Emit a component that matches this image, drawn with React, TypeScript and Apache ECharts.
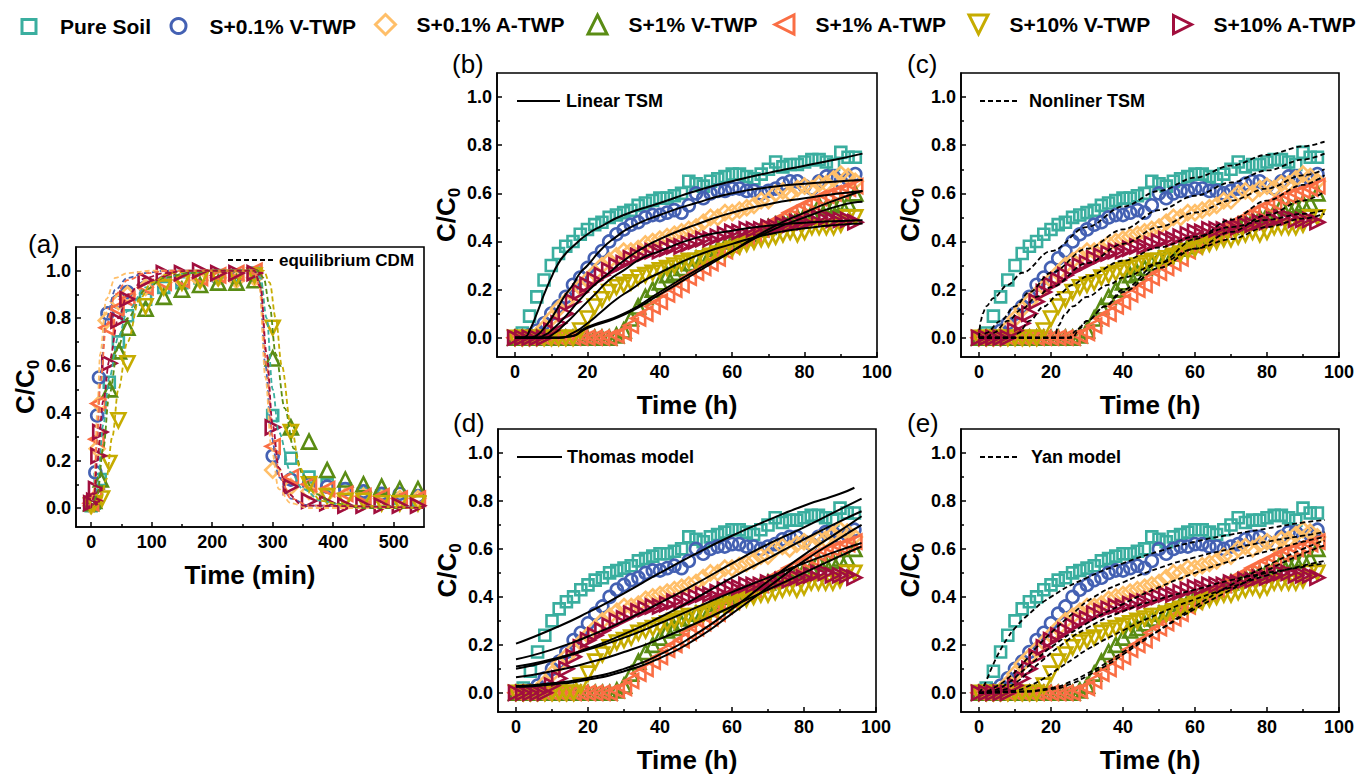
import React, { useEffect, useRef } from 'react';
import * as echarts from 'echarts';

const FONT = '"Liberation Sans", Arial, Helvetica, sans-serif';

// ---------- series definitions ----------
const SERIES_NAMES = ['Pure Soil', 'S+0.1% V-TWP', 'S+0.1% A-TWP', 'S+1% V-TWP', 'S+1% A-TWP', 'S+10% V-TWP', 'S+10% A-TWP'];
const COLORS = ['#3AAE9F', '#4461B3', '#FFBF69', '#5A8C14', '#FA6E44', '#C6AC00', '#A10E3D'];
const SYMBOLS = ['rect', 'circle', 'diamond', 'triangle', 'triangle', 'triangle', 'triangle'];
const ROTATIONS = [0, 0, 0, 0, 90, 180, -90];
const SIZES = [11, 12, 15, 14, 14, 14, 14];
const LEGEND_ICONS = ['rect', 'circle', 'diamond', 'triangle', 'path://M0,5L10,0L10,10Z', 'path://M0,0L10,0L5,10Z', 'path://M0,0L10,5L0,10Z'];

// ---------- panel (a): time in minutes ----------
const A_PURE = [[0, 0.01], [5, 0.02], [15, 0.12], [30, 0.53], [45, 0.70], [60, 0.81], [90, 0.88], [120, 0.93], [150, 0.95], [180, 0.97], [210, 0.98], [240, 0.98], [270, 0.99], [300, 0.39], [330, 0.21], [360, 0.13], [390, 0.10], [420, 0.08], [450, 0.06], [480, 0.05], [510, 0.04], [540, 0.03]];
const A_V01 = [[0, 0.01], [5, 0.03], [7, 0.15], [10, 0.39], [13, 0.55], [27, 0.82], [44, 0.87], [60, 0.91], [90, 0.93], [120, 0.95], [150, 0.96], [180, 0.97], [210, 0.97], [240, 0.97], [270, 0.98], [300, 0.22], [330, 0.12], [360, 0.10], [390, 0.09], [420, 0.08], [450, 0.07], [480, 0.06], [510, 0.06], [540, 0.05]];
const A_A01 = [[0, 0.01], [5, 0.03], [10, 0.25], [14, 0.44], [25, 0.79], [45, 0.87], [60, 0.90], [90, 0.93], [120, 0.95], [150, 0.96], [180, 0.96], [210, 0.97], [240, 0.96], [270, 0.97], [300, 0.16], [330, 0.09], [360, 0.07], [390, 0.06], [420, 0.05], [450, 0.05], [480, 0.04], [510, 0.04], [540, 0.04]];
const A_V1 = [[0, 0.02], [5, 0.03], [16, 0.12], [31, 0.50], [46, 0.66], [60, 0.76], [90, 0.84], [120, 0.89], [150, 0.92], [180, 0.94], [210, 0.95], [240, 0.95], [270, 0.96], [300, 0.63], [330, 0.34], [360, 0.28], [390, 0.16], [420, 0.12], [450, 0.10], [480, 0.09], [510, 0.08], [540, 0.08]];
const A_A1 = [[0, 0.02], [5, 0.05], [9, 0.29], [12, 0.44], [26, 0.76], [42, 0.84], [60, 0.88], [90, 0.93], [120, 0.95], [150, 0.96], [180, 0.97], [210, 0.98], [240, 0.99], [270, 1.0], [300, 0.26], [330, 0.13], [360, 0.10], [390, 0.08], [420, 0.06], [450, 0.05], [480, 0.05], [510, 0.04], [540, 0.04]];
const A_V10 = [[0, 0.01], [5, 0.02], [18, 0.04], [30, 0.19], [45, 0.37], [60, 0.61], [90, 0.85], [120, 0.93], [150, 0.95], [180, 0.96], [210, 0.97], [240, 0.97], [270, 0.98], [300, 0.76], [330, 0.32], [360, 0.10], [390, 0.05], [420, 0.03], [450, 0.03], [480, 0.02], [510, 0.02], [540, 0.02]];
const A_A10 = [[0, 0.02], [5, 0.03], [8, 0.08], [12, 0.22], [15, 0.32], [30, 0.61], [45, 0.79], [60, 0.88], [90, 0.96], [120, 0.99], [150, 0.99], [180, 1.0], [210, 0.99], [240, 0.99], [270, 0.99], [300, 0.34], [330, 0.09], [360, 0.03], [390, 0.02], [420, 0.01], [450, 0.01], [480, 0.01], [510, 0.01], [540, 0.01]];
const PANEL_A_DATA = [A_PURE, A_V01, A_A01, A_V1, A_A1, A_V10, A_A10];

// equilibrium CDM fitted curves (panel a)
const CDM_FITS = [
  [[0, 0], [10, 0.08], [20, 0.35], [30, 0.55], [45, 0.72], [60, 0.83], [90, 0.93], [120, 0.97], [160, 0.99], [200, 1.0], [270, 1.0], [280, 0.97], [290, 0.8], [300, 0.5], [310, 0.32], [330, 0.15], [350, 0.08], [380, 0.03], [420, 0.01], [550, 0]],
  [[0, 0], [5, 0.05], [10, 0.3], [15, 0.55], [25, 0.8], [40, 0.92], [60, 0.97], [90, 0.99], [120, 1], [270, 1], [278, 0.95], [288, 0.6], [298, 0.3], [310, 0.13], [330, 0.04], [360, 0.01], [550, 0]],
  [[0, 0], [5, 0.08], [10, 0.4], [15, 0.65], [25, 0.88], [40, 0.97], [60, 0.99], [100, 1], [270, 1], [278, 0.93], [288, 0.55], [298, 0.25], [310, 0.08], [330, 0.02], [360, 0], [550, 0]],
  [[0, 0], [10, 0.05], [20, 0.25], [30, 0.48], [45, 0.68], [60, 0.8], [90, 0.92], [120, 0.97], [160, 0.99], [200, 1], [275, 1], [285, 0.97], [295, 0.85], [305, 0.65], [320, 0.42], [335, 0.25], [350, 0.14], [370, 0.06], [400, 0.02], [450, 0], [550, 0]],
  [[0, 0], [5, 0.06], [10, 0.3], [15, 0.52], [25, 0.77], [40, 0.9], [60, 0.96], [90, 0.99], [130, 1], [270, 1], [280, 0.92], [290, 0.6], [300, 0.3], [312, 0.13], [330, 0.04], [360, 0.01], [550, 0]],
  [[0, 0], [15, 0.02], [25, 0.12], [35, 0.3], [45, 0.5], [60, 0.7], [80, 0.88], [100, 0.95], [130, 0.99], [170, 1], [285, 1], [295, 0.95], [305, 0.8], [315, 0.6], [330, 0.35], [345, 0.17], [360, 0.08], [380, 0.03], [420, 0.01], [550, 0]],
  [[0, 0], [5, 0.05], [10, 0.2], [20, 0.45], [30, 0.62], [45, 0.8], [60, 0.9], [90, 0.97], [120, 0.99], [160, 1], [270, 1], [280, 0.93], [290, 0.65], [300, 0.35], [310, 0.17], [325, 0.06], [350, 0.01], [550, 0]],
];

// ---------- panels (b)-(e): time in hours ----------
const TIME_H = [0, 2, 4, 6, 8, 10, 12, 14, 16, 18, 20, 22, 24, 26, 28, 30, 32, 34, 36, 38, 40, 42, 44, 46, 48, 50, 52, 54, 56, 58, 60, 62, 64, 66, 68, 70, 72, 74, 76, 78, 80, 82, 84, 86, 88, 90, 92, 94];
const PURE_SOIL = [0, 0.02, 0.09, 0.17, 0.24, 0.30, 0.35, 0.38, 0.40, 0.43, 0.45, 0.47, 0.48, 0.50, 0.51, 0.52, 0.53, 0.55, 0.56, 0.57, 0.58, 0.58, 0.59, 0.60, 0.65, 0.64, 0.63, 0.65, 0.66, 0.67, 0.68, 0.68, 0.67, 0.66, 0.68, 0.70, 0.73, 0.71, 0.72, 0.72, 0.73, 0.74, 0.74, 0.73, 0.72, 0.77, 0.75, 0.75];
const V_TWP_01 = [0, 0, 0.01, 0.03, 0.06, 0.10, 0.13, 0.17, 0.22, 0.25, 0.29, 0.33, 0.36, 0.40, 0.43, 0.45, 0.47, 0.48, 0.50, 0.51, 0.51, 0.52, 0.53, 0.52, 0.55, 0.60, 0.58, 0.60, 0.61, 0.61, 0.62, 0.62, 0.61, 0.61, 0.60, 0.61, 0.62, 0.64, 0.65, 0.65, 0.63, 0.62, 0.65, 0.67, 0.67, 0.65, 0.66, 0.68];
const A_TWP_01 = [0, 0, 0, 0.01, 0.04, 0.08, 0.12, 0.15, 0.18, 0.21, 0.24, 0.27, 0.30, 0.32, 0.34, 0.36, 0.36, 0.37, 0.39, 0.40, 0.41, 0.42, 0.43, 0.44, 0.45, 0.46, 0.48, 0.50, 0.50, 0.52, 0.52, 0.53, 0.54, 0.55, 0.57, 0.57, 0.60, 0.61, 0.60, 0.62, 0.63, 0.62, 0.64, 0.64, 0.66, 0.68, 0.67, 0.65];
const V_TWP_1 = [0, 0, 0, 0, 0, 0, 0, 0, 0, 0, 0, 0, 0, 0, 0.01, 0.03, 0.08, 0.13, 0.17, 0.20, 0.23, 0.26, 0.27, 0.29, 0.31, 0.33, 0.34, 0.35, 0.37, 0.38, 0.40, 0.41, 0.42, 0.43, 0.45, 0.46, 0.47, 0.48, 0.49, 0.50, 0.51, 0.52, 0.55, 0.54, 0.55, 0.56, 0.56, 0.60];
const A_TWP_1 = [0, 0, 0, 0, 0, 0, 0, 0, 0, 0, 0, 0, 0, 0, 0.01, 0.02, 0.05, 0.08, 0.10, 0.13, 0.15, 0.18, 0.20, 0.22, 0.25, 0.27, 0.29, 0.31, 0.33, 0.36, 0.38, 0.40, 0.41, 0.43, 0.45, 0.47, 0.48, 0.50, 0.52, 0.53, 0.55, 0.56, 0.58, 0.59, 0.60, 0.61, 0.62, 0.63];
const V_TWP_10 = [0, 0, 0, 0, 0, 0, 0, 0, 0, 0.03, 0.08, 0.13, 0.16, 0.19, 0.21, 0.22, 0.23, 0.25, 0.26, 0.27, 0.28, 0.29, 0.30, 0.31, 0.32, 0.32, 0.33, 0.34, 0.35, 0.36, 0.37, 0.38, 0.39, 0.40, 0.41, 0.41, 0.42, 0.43, 0.44, 0.43, 0.44, 0.46, 0.46, 0.46, 0.46, 0.47, 0.50, 0.50];
const A_TWP_10 = [0, 0, 0, 0, 0, 0.03, 0.06, 0.10, 0.15, 0.19, 0.22, 0.24, 0.26, 0.28, 0.30, 0.31, 0.33, 0.34, 0.35, 0.36, 0.36, 0.37, 0.38, 0.38, 0.39, 0.40, 0.41, 0.41, 0.42, 0.43, 0.44, 0.44, 0.45, 0.45, 0.45, 0.46, 0.46, 0.47, 0.47, 0.48, 0.48, 0.49, 0.50, 0.50, 0.49, 0.49, 0.49, 0.48];
const HOUR_DATA = [PURE_SOIL, V_TWP_01, A_TWP_01, V_TWP_1, A_TWP_1, V_TWP_10, A_TWP_10];

// Linear TSM fits (panel b)
const LINEAR_TSM_FITS = [
  [[0, 0], [2, 0], [3, 0.005], [4, 0.03], [6, 0.10], [8, 0.18], [10, 0.25], [12, 0.31], [14, 0.35], [16, 0.38], [20, 0.43], [24, 0.465], [30, 0.51], [40, 0.56], [50, 0.61], [60, 0.65], [70, 0.685], [80, 0.715], [90, 0.745], [96, 0.765]],
  [[0, 0], [4, 0], [6, 0.01], [8, 0.04], [10, 0.08], [12, 0.13], [14, 0.18], [16, 0.22], [18, 0.27], [20, 0.30], [24, 0.37], [28, 0.42], [32, 0.46], [40, 0.51], [50, 0.56], [60, 0.60], [70, 0.625], [80, 0.64], [90, 0.65], [96, 0.655]],
  [[0, 0], [6, 0], [8, 0.01], [10, 0.03], [14, 0.09], [18, 0.16], [22, 0.22], [26, 0.27], [30, 0.32], [35, 0.37], [40, 0.41], [50, 0.47], [60, 0.52], [70, 0.555], [80, 0.58], [90, 0.60], [96, 0.61]],
  [[0, 0], [10, 0], [15, 0.005], [20, 0.045], [30, 0.10], [40, 0.19], [50, 0.28], [60, 0.36], [70, 0.44], [80, 0.50], [90, 0.55], [96, 0.565]],
  [[0, 0], [10, 0], [15, 0.005], [20, 0.04], [30, 0.095], [40, 0.18], [50, 0.27], [60, 0.36], [70, 0.45], [80, 0.52], [90, 0.58], [96, 0.61]],
  [[0, 0], [12, 0], [16, 0.02], [20, 0.06], [24, 0.11], [28, 0.16], [32, 0.20], [36, 0.24], [40, 0.27], [50, 0.34], [60, 0.39], [70, 0.43], [80, 0.455], [90, 0.47], [96, 0.475]],
  [[0, 0], [8, 0], [10, 0.01], [14, 0.06], [18, 0.12], [22, 0.18], [26, 0.24], [30, 0.28], [35, 0.33], [40, 0.36], [50, 0.415], [60, 0.445], [70, 0.465], [80, 0.478], [90, 0.485], [96, 0.488]],
];

// Nonlinear TSM fits (panel c)
const NONLINEAR_TSM_FITS = [
  [[0, 0], [0.5, 0.07], [1, 0.10], [2, 0.13], [4, 0.165], [8, 0.22], [12, 0.27], [20, 0.36], [30, 0.46], [40, 0.545], [50, 0.61], [60, 0.665], [70, 0.715], [80, 0.76], [90, 0.795], [96, 0.815]],
  [[0, 0], [1, 0], [2, 0.02], [6, 0.07], [10, 0.13], [14, 0.19], [20, 0.27], [30, 0.37], [40, 0.45], [50, 0.53], [60, 0.59], [70, 0.645], [80, 0.695], [90, 0.74], [96, 0.765]],
  [[0, 0], [2, 0], [4, 0.02], [8, 0.07], [12, 0.12], [16, 0.17], [20, 0.21], [30, 0.31], [40, 0.39], [50, 0.46], [60, 0.52], [70, 0.57], [80, 0.62], [90, 0.675], [96, 0.70]],
  [[0, 0], [25, 0], [27, 0.03], [30, 0.07], [35, 0.13], [40, 0.19], [50, 0.29], [60, 0.37], [70, 0.44], [80, 0.51], [90, 0.57], [96, 0.606]],
  [[0, 0], [26, 0], [28, 0.04], [30, 0.07], [35, 0.13], [40, 0.20], [50, 0.31], [60, 0.41], [70, 0.49], [80, 0.57], [90, 0.635], [96, 0.675]],
  [[0, 0], [21, 0], [22, 0.05], [24, 0.10], [26, 0.13], [30, 0.17], [36, 0.22], [40, 0.25], [50, 0.31], [60, 0.37], [70, 0.41], [80, 0.46], [90, 0.495], [96, 0.515]],
  [[0, 0], [10, 0], [11, 0.02], [14, 0.07], [18, 0.13], [22, 0.18], [26, 0.22], [30, 0.255], [40, 0.32], [50, 0.375], [60, 0.42], [70, 0.46], [80, 0.49], [90, 0.515], [96, 0.53]],
];

// Thomas model fits (panel d)
const THOMAS_FITS = [
  [[0, 0.205], [10, 0.265], [20, 0.335], [30, 0.415], [40, 0.50], [50, 0.58], [60, 0.655], [70, 0.72], [80, 0.78], [90, 0.83], [94, 0.855]],
  [[0, 0.14], [10, 0.18], [20, 0.235], [30, 0.30], [40, 0.375], [50, 0.455], [60, 0.54], [70, 0.62], [80, 0.69], [90, 0.765], [96, 0.81]],
  [[0, 0.11], [10, 0.14], [20, 0.185], [30, 0.245], [40, 0.315], [50, 0.395], [60, 0.48], [70, 0.56], [80, 0.64], [90, 0.715], [96, 0.757]],
  [[0, 0.025], [10, 0.035], [20, 0.055], [30, 0.09], [40, 0.145], [50, 0.225], [60, 0.33], [70, 0.44], [80, 0.55], [90, 0.645], [96, 0.70]],
  [[0, 0.028], [10, 0.04], [20, 0.062], [30, 0.10], [40, 0.16], [50, 0.245], [60, 0.35], [70, 0.465], [80, 0.575], [90, 0.675], [96, 0.736]],
  [[0, 0.065], [10, 0.09], [20, 0.125], [30, 0.17], [40, 0.225], [50, 0.29], [60, 0.36], [70, 0.43], [80, 0.50], [90, 0.57], [96, 0.61]],
  [[0, 0.10], [10, 0.135], [20, 0.18], [30, 0.23], [40, 0.29], [50, 0.355], [60, 0.42], [70, 0.48], [80, 0.54], [90, 0.595], [96, 0.625]],
];

// Yan model fits (panel e)
const YAN_FITS = [
  [[0, 0], [1, 0.02], [2, 0.05], [4, 0.12], [6, 0.18], [8, 0.23], [10, 0.27], [14, 0.33], [20, 0.40], [30, 0.48], [40, 0.54], [50, 0.59], [60, 0.63], [70, 0.66], [80, 0.685], [90, 0.71], [96, 0.72]],
  [[0, 0], [2, 0.005], [4, 0.02], [8, 0.06], [12, 0.12], [16, 0.19], [20, 0.25], [26, 0.33], [32, 0.40], [40, 0.46], [50, 0.52], [60, 0.565], [70, 0.60], [80, 0.63], [90, 0.655], [96, 0.67]],
  [[0, 0], [4, 0.01], [8, 0.04], [12, 0.09], [16, 0.14], [20, 0.19], [30, 0.29], [40, 0.37], [50, 0.44], [60, 0.50], [70, 0.55], [80, 0.59], [90, 0.63], [96, 0.65]],
  [[0, 0], [10, 0.005], [20, 0.02], [26, 0.05], [30, 0.08], [36, 0.13], [40, 0.17], [50, 0.26], [60, 0.35], [70, 0.43], [80, 0.51], [90, 0.58], [96, 0.615]],
  [[0, 0], [10, 0.003], [20, 0.015], [26, 0.04], [30, 0.07], [36, 0.12], [40, 0.16], [50, 0.26], [60, 0.36], [70, 0.45], [80, 0.53], [90, 0.60], [96, 0.635]],
  [[0, 0], [10, 0.01], [14, 0.03], [18, 0.06], [22, 0.10], [26, 0.14], [30, 0.18], [40, 0.26], [50, 0.33], [60, 0.39], [70, 0.44], [80, 0.49], [90, 0.53], [96, 0.55]],
  [[0, 0], [6, 0.01], [10, 0.04], [14, 0.09], [18, 0.14], [22, 0.19], [30, 0.27], [40, 0.34], [50, 0.39], [60, 0.43], [70, 0.47], [80, 0.50], [90, 0.525], [96, 0.54]],
];

// ---------- ticks ----------
const Y_TICKS = [0, 0.2, 0.4, 0.6, 0.8, 1.0];
const Y_MINOR = [0.1, 0.3, 0.5, 0.7, 0.9];
const X_TICKS_MIN = [0, 100, 200, 300, 400, 500];
const X_MINOR_MIN = [50, 150, 250, 350, 450];
const X_TICKS_H = [0, 20, 40, 60, 80, 100];
const X_MINOR_H = [10, 30, 50, 70, 90];

// ---------- layout ----------
const GRIDS = [
  { left: 76, top: 247, width: 348, height: 280 },
  { left: 497, top: 73, width: 380, height: 284 },
  { left: 961, top: 73, width: 379, height: 284 },
  { left: 498, top: 429, width: 378, height: 283 },
  { left: 961, top: 429, width: 379, height: 283 },
];
const LEGEND_CX = [27.5, 177, 384, 596, 783, 977, 1181];
const LEGEND_H = [14, 15, 20, 19, 19, 19, 18];
const LEGEND_CY = 23;

const black = '#000';

function makeXAxes(gridIndex: number, min: number, max: number, majors: number[], minors: number[], name: string) {
  return [
    {
      type: 'value', gridIndex, min, max, position: 'bottom',
      name, nameLocation: 'middle', nameGap: 35,
      nameTextStyle: { fontFamily: FONT, fontSize: 26, fontWeight: 'bold', color: black },
      axisLine: { show: true, onZero: false, lineStyle: { color: black, width: 1.6 } },
      axisTick: { show: true, inside: true, length: 5, lineStyle: { color: black, width: 1.5 }, customValues: majors },
      axisLabel: { customValues: majors, fontFamily: FONT, fontSize: 18, fontWeight: 'bold', color: black, margin: 6, formatter: (v: number) => String(v) },
      splitLine: { show: false },
    },
    {
      type: 'value', gridIndex, min, max, position: 'bottom',
      axisLine: { show: false, onZero: false },
      axisTick: { show: true, inside: true, length: 3, lineStyle: { color: black, width: 1.5 }, customValues: minors },
      axisLabel: { show: false },
      splitLine: { show: false },
    },
  ];
}

function makeYAxes(gridIndex: number) {
  return [
    {
      type: 'value', gridIndex, min: -0.08, max: 1.1, position: 'left',
      name: '{m|C/C}{s|0}', nameLocation: 'middle', nameGap: 35,
      nameTextStyle: {
        rich: {
          m: { fontFamily: FONT, fontSize: 26, fontWeight: 'bold', color: black },
          s: { fontFamily: FONT, fontSize: 17, fontWeight: 'bold', color: black, verticalAlign: 'bottom', padding: [0, 0, -4, 0] },
        },
      },
      axisLine: { show: true, onZero: false, lineStyle: { color: black, width: 1.6 } },
      axisTick: { show: true, inside: true, length: 5, lineStyle: { color: black, width: 1.5 }, customValues: Y_TICKS },
      axisLabel: { customValues: Y_TICKS, fontFamily: FONT, fontSize: 18, fontWeight: 'bold', color: black, margin: 5, formatter: (v: number) => v.toFixed(1) },
      splitLine: { show: false },
    },
    {
      type: 'value', gridIndex, min: -0.08, max: 1.1, position: 'left',
      axisLine: { show: false, onZero: false },
      axisTick: { show: true, inside: true, length: 3, lineStyle: { color: black, width: 1.5 }, customValues: Y_MINOR },
      axisLabel: { show: false },
      splitLine: { show: false },
    },
  ];
}

function scatter(i: number, data: number[][], g: number) {
  return {
    type: 'scatter', name: SERIES_NAMES[i], xAxisIndex: g * 2, yAxisIndex: g * 2,
    symbol: SYMBOLS[i], symbolRotate: ROTATIONS[i], symbolSize: SIZES[i],
    itemStyle: { color: 'rgba(255,255,255,0)', borderColor: COLORS[i], borderWidth: 2.6, opacity: 1 },
    emphasis: { disabled: true },
    data, z: 2,
  };
}

function fitLine(data: number[][], g: number, color: string, dashed: boolean, width: number, monotone: boolean) {
  return {
    type: 'line', xAxisIndex: g * 2, yAxisIndex: g * 2,
    data, showSymbol: false, symbol: 'none', smooth: monotone ? 0.35 : 0.6,
    smoothMonotone: monotone ? 'x' : null,
    lineStyle: { color, width, type: dashed ? [5, 3] : 'solid' },
    emphasis: { disabled: true }, silent: true, z: 3,
  };
}

function buildOption() {
  const xAxis: any[] = [
    ...makeXAxes(0, -25, 550, X_TICKS_MIN, X_MINOR_MIN, 'Time (min)'),
    ...makeXAxes(1, -5, 100, X_TICKS_H, X_MINOR_H, 'Time (h)'),
    ...makeXAxes(2, -5, 100, X_TICKS_H, X_MINOR_H, 'Time (h)'),
    ...makeXAxes(3, -5, 100, X_TICKS_H, X_MINOR_H, 'Time (h)'),
    ...makeXAxes(4, -5, 100, X_TICKS_H, X_MINOR_H, 'Time (h)'),
  ];
  const yAxis: any[] = [0, 1, 2, 3, 4].flatMap((g) => makeYAxes(g));

  const series: any[] = [];
  // panel (a)
  PANEL_A_DATA.forEach((d, i) => series.push(scatter(i, d, 0)));
  CDM_FITS.forEach((d, i) => series.push(fitLine(d, 0, COLORS[i], true, 1.8, true)));
  // panels (b)-(e)
  const fitsByPanel = [LINEAR_TSM_FITS, NONLINEAR_TSM_FITS, THOMAS_FITS, YAN_FITS];
  const dashedByPanel = [false, true, false, true];
  fitsByPanel.forEach((fits, p) => {
    const g = p + 1;
    HOUR_DATA.forEach((vals, i) => {
      series.push(scatter(i, vals.map((v, k) => [TIME_H[k], v]), g));
    });
    fits.forEach((d) => series.push(fitLine(d, g, black, dashedByPanel[p], dashedByPanel[p] ? 1.8 : 2, p === 1)));
  });

  const legend = SERIES_NAMES.map((n, i) => ({
    data: [{ name: n, icon: LEGEND_ICONS[i] }],
    left: LEGEND_CX[i] - LEGEND_H[i] / 2, top: LEGEND_CY - LEGEND_H[i] / 2, padding: 0,
    itemWidth: LEGEND_H[i], itemHeight: LEGEND_H[i], selectedMode: false,
    itemStyle: { color: 'rgba(255,255,255,0)', borderColor: COLORS[i], borderWidth: 3, opacity: 1 },
    textStyle: { fontFamily: FONT, fontSize: 21, fontWeight: 'bold', color: black, padding: [0, 0, 0, 26 - LEGEND_H[i] / 2] },
  }));

  const labelFont = `26px ${FONT}`;
  const legFont = `bold 18px ${FONT}`;
  const panelLabels = [
    { t: '(a)', x: 28, y: 244 },
    { t: '(b)', x: 452, y: 64 },
    { t: '(c)', x: 907, y: 64 },
    { t: '(d)', x: 453, y: 423 },
    { t: '(e)', x: 907, y: 423 },
  ].map((p) => ({ type: 'text', x: p.x, y: p.y, style: { text: p.t, font: labelFont, fill: black, align: 'left', verticalAlign: 'middle' } }));

  const inLegends = [
    { x1: 228, x2: 273, y: 260, dashed: true, text: 'equilibrium CDM', tx: 279, font: `bold 17px ${FONT}` },
    { x1: 517, x2: 560, y: 101, dashed: false, text: 'Linear TSM', tx: 566, font: legFont },
    { x1: 980, x2: 1020, y: 101, dashed: true, text: 'Nonliner TSM', tx: 1029, font: legFont },
    { x1: 517, x2: 562, y: 457, dashed: false, text: 'Thomas model', tx: 567, font: legFont },
    { x1: 980, x2: 1020, y: 457, dashed: true, text: 'Yan model', tx: 1031, font: legFont },
  ].flatMap((l) => [
    { type: 'line', shape: { x1: l.x1, y1: l.y, x2: l.x2, y2: l.y }, style: { stroke: black, lineWidth: 2, lineDash: l.dashed ? [5, 3] : null } },
    { type: 'text', x: l.tx, y: l.y, style: { text: l.text, font: l.font, fill: black, align: 'left', verticalAlign: 'middle' } },
  ]);

  return {
    animation: false,
    backgroundColor: '#fff',
    grid: GRIDS.map((g) => ({ ...g, show: true, borderColor: black, borderWidth: 1.6, backgroundColor: 'transparent' })),
    xAxis, yAxis, series, legend,
    graphic: [...panelLabels, ...inLegends],
  };
}

export default function App() {
  const ref = useRef<HTMLDivElement>(null);
  useEffect(() => {
    if (!ref.current) return;
    const chart = echarts.init(ref.current, null, { renderer: 'svg' });
    chart.setOption(buildOption() as any);
    return () => chart.dispose();
  }, []);
  return <div ref={ref} style={{ position: 'fixed', left: 0, top: 0, width: 1357, height: 776, background: '#fff' }} />;
}
